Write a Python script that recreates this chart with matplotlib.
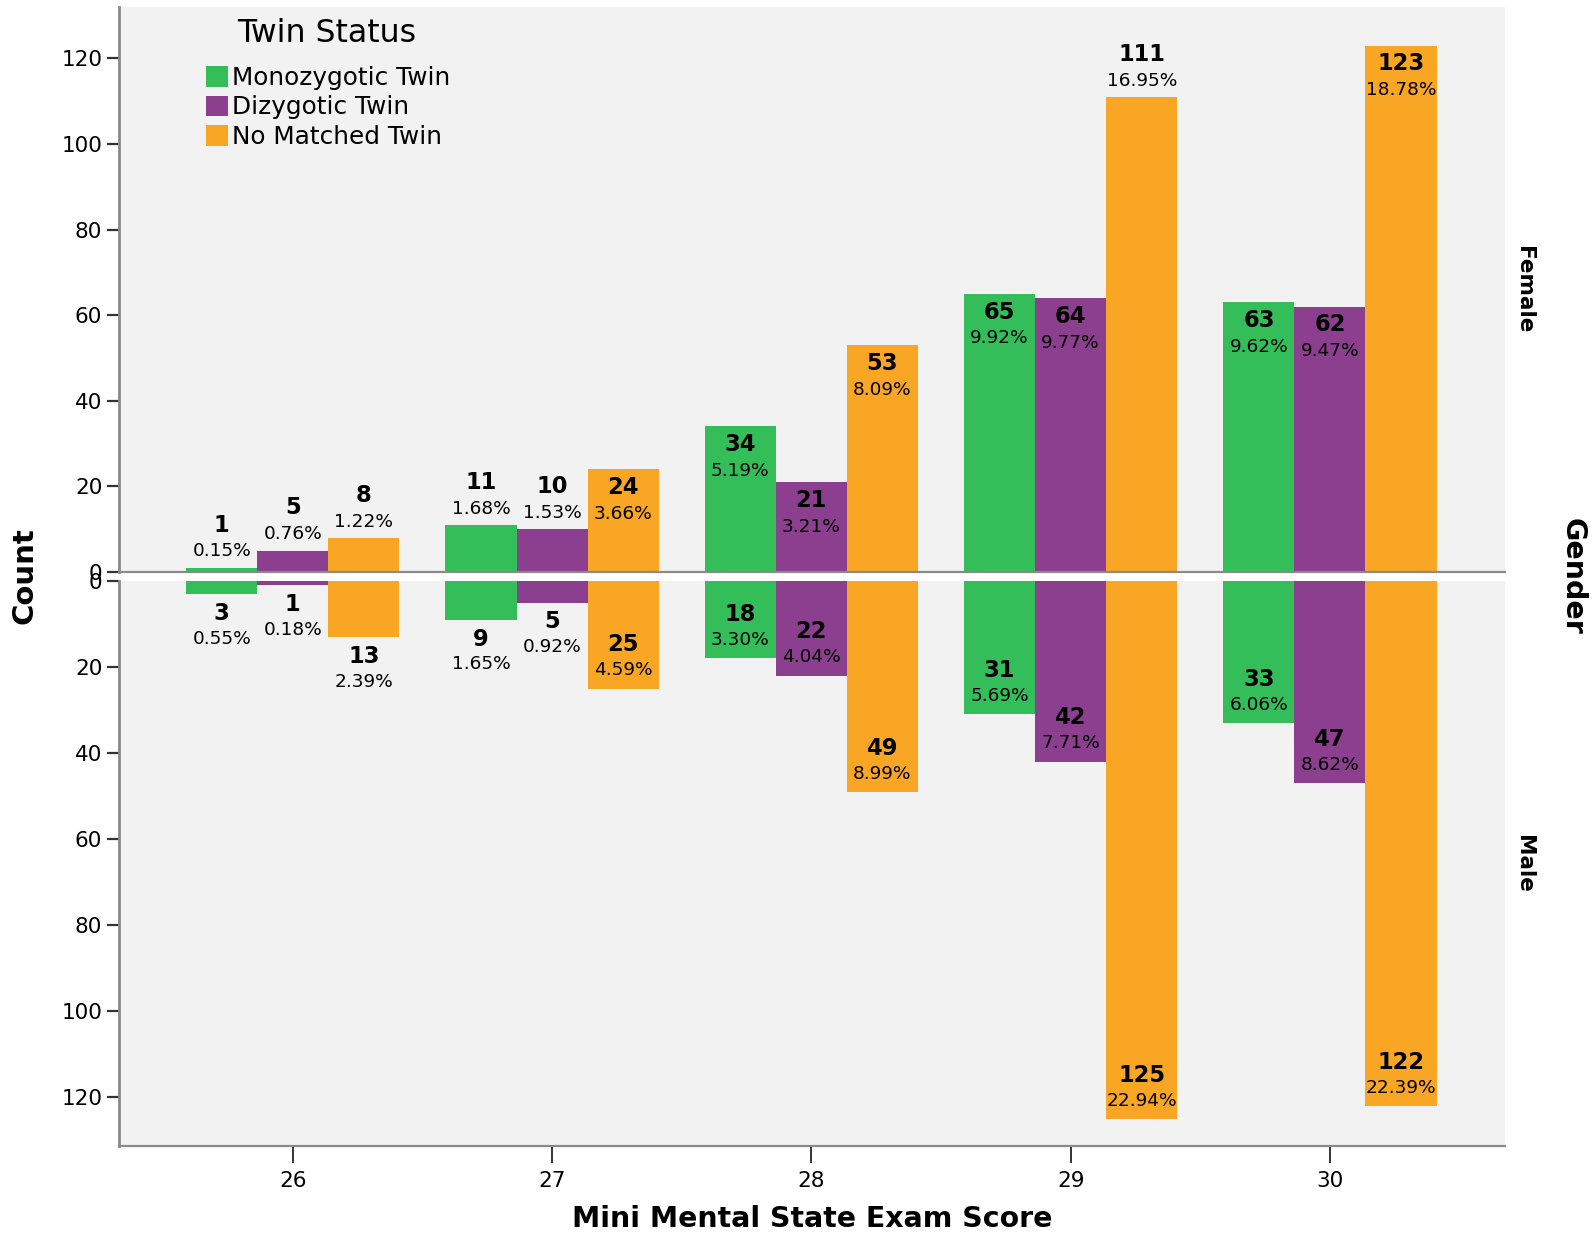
import matplotlib
matplotlib.use("Agg")
import matplotlib.pyplot as plt
from matplotlib.patches import Patch
import numpy as np

plt.rcParams['font.family'] = ['DejaVu Sans']

scores = [26, 27, 28, 29, 30]
series = ["Monozygotic Twin", "Dizygotic Twin", "No Matched Twin"]
colors = ["#33BE5A", "#8B3F8E", "#F8A623"]

female_mono = [1, 11, 34, 65, 63]
female_di = [5, 10, 21, 64, 62]
female_none = [8, 24, 53, 111, 123]

male_mono = [3, 9, 18, 31, 33]
male_di = [1, 5, 22, 42, 47]
male_none = [13, 25, 49, 125, 122]

# label placement: True = inside bar end, False = outside
female_inside = [[False, False, True, True, True],
                 [False, False, True, True, True],
                 [False, True, True, False, True]]
male_inside = [[False, False, True, True, True],
               [False, False, True, True, True],
               [False, True, True, True, True]]

female = [female_mono, female_di, female_none]
male = [male_mono, male_di, male_none]

W, H = 1593, 1235
fig = plt.figure(figsize=(W / 100, H / 100), dpi=100)
fig.patch.set_facecolor("white")

left = 119 / W
width = (1505 - 119) / W
ax_top = fig.add_axes([left, 1 - 572 / H, width, (572 - 7) / H])
ax_bot = fig.add_axes([left, 1 - 1146 / H, width, (1146 - 581) / H])

bw = 0.274
offsets = [-bw, 0, bw]
spine_col = "#8a8a8a"
count_fs = 16.3
pct_fs = 13.3

for ax in (ax_top, ax_bot):
    ax.set_facecolor("#F2F2F2")
    ax.set_xlim(25.33, 30.675)
    ax.set_yticks([0, 20, 40, 60, 80, 100, 120])
    ax.tick_params(axis="y", direction="out", length=9, width=1.6, color="#333333",
                   labelsize=15.5, pad=3)
    ax.spines["top"].set_visible(False)
    ax.spines["right"].set_visible(False)
    ax.spines["left"].set_color(spine_col)
    ax.spines["left"].set_linewidth(2)
    ax.spines["bottom"].set_color(spine_col)
    ax.spines["bottom"].set_linewidth(1.6)

ax_top.set_ylim(0, 132)
ax_bot.set_ylim(131.3, 0)
ax_top.set_xticks([])
ax_bot.set_xticks(scores)
ax_bot.tick_params(axis="x", direction="out", length=12, width=1.4, color="#333333",
                   labelsize=15.5, pad=6)

tot_f = sum(sum(s) for s in female)
tot_m = sum(sum(s) for s in male)

for i in range(3):
    xs = np.array(scores) + offsets[i]
    ax_top.bar(xs, female[i], width=bw, color=colors[i], edgecolor="none")
    ax_bot.bar(xs, male[i], width=bw, color=colors[i], edgecolor="none")
    for j, x in enumerate(xs):
        v = female[i][j]
        pct = f"{100 * v / tot_f:.2f}%"
        if female_inside[i][j]:
            oc, op = -13.2, -32
        else:
            oc, op = 30.7, 11.7
        ax_top.annotate(str(v), (x, v), xytext=(0, oc), textcoords="offset points",
                        ha="center", va="center", fontsize=count_fs, fontweight="bold")
        ax_top.annotate(pct, (x, v), xytext=(0, op), textcoords="offset points",
                        ha="center", va="center", fontsize=pct_fs)
        v = male[i][j]
        pct = f"{100 * v / tot_m:.2f}%"
        if male_inside[i][j]:
            oc, op = 31.5, 13.2
        else:
            oc, op = -13.9, -32.2
        ax_bot.annotate(str(v), (x, v), xytext=(0, oc), textcoords="offset points",
                        ha="center", va="center", fontsize=count_fs, fontweight="bold")
        ax_bot.annotate(pct, (x, v), xytext=(0, op), textcoords="offset points",
                        ha="center", va="center", fontsize=pct_fs)

# facet labels
ax_top.text(1.0 + 19 / (1505 - 119), 0.5, "Female", transform=ax_top.transAxes,
            rotation=-90, ha="center", va="center", fontsize=15.5, fontweight="bold")
ax_bot.text(1.0 + 19 / (1505 - 119), 0.5, "Male", transform=ax_bot.transAxes,
            rotation=-90, ha="center", va="center", fontsize=15.5, fontweight="bold")
fig.text(1573 / W, 1 - 576 / H, "Gender", rotation=-90, ha="center", va="center",
         fontsize=20.5, fontweight="bold")
fig.text(25 / W, 1 - 576 / H, "Count", rotation=90, ha="center", va="center",
         fontsize=21, fontweight="bold")
fig.text(812 / W, 1 - 1219 / H, "Mini Mental State Exam Score", ha="center", va="center",
         fontsize=20.4, fontweight="bold")

# legend
fig.text(327 / W, 1 - 34 / H, "Twin Status", ha="center", va="center", fontsize=22.7)
handles = [Patch(facecolor=c, edgecolor="none") for c in colors]
leg = fig.legend(handles, series, loc="upper left", bbox_to_anchor=(206 / W, 1 - 66 / H),
                 frameon=False, borderpad=0, borderaxespad=0, fontsize=17.8,
                 handlelength=0.9, handleheight=0.9, handletextpad=0.15,
                 labelspacing=0.22)

fig.savefig("out.png", dpi=100)
